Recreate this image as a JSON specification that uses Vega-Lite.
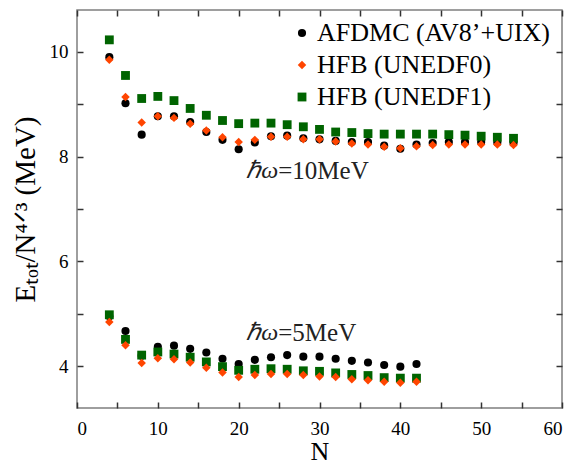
{
  "$schema": "https://vega.github.io/schema/vega-lite/v6.json",
  "width": 485,
  "height": 398,
  "autosize": "none",
  "padding": {"left": 77, "top": 10, "right": 19, "bottom": 58},
  "config": {
    "view": {"stroke": "#7f7f7f", "strokeWidth": 1.5},
    "font": "Liberation Serif",
    "axis": {
      "grid": false,
      "domain": false,
      "labelFont": "Liberation Serif",
      "labelFontSize": 19,
      "labelColor": "black",
      "titleFont": "Liberation Serif",
      "titleFontWeight": "normal",
      "titleColor": "black"
    }
  },
  "resolve": {"axis": {"x": "independent", "y": "independent"}},
  "datasets": {
    "pts": [
      {"N": 4, "E": 9.90, "s": "AFDMC (AV8’+UIX)"},
      {"N": 6, "E": 9.02, "s": "AFDMC (AV8’+UIX)"},
      {"N": 8, "E": 8.42, "s": "AFDMC (AV8’+UIX)"},
      {"N": 10, "E": 8.77, "s": "AFDMC (AV8’+UIX)"},
      {"N": 12, "E": 8.77, "s": "AFDMC (AV8’+UIX)"},
      {"N": 14, "E": 8.66, "s": "AFDMC (AV8’+UIX)"},
      {"N": 16, "E": 8.47, "s": "AFDMC (AV8’+UIX)"},
      {"N": 18, "E": 8.32, "s": "AFDMC (AV8’+UIX)"},
      {"N": 20, "E": 8.14, "s": "AFDMC (AV8’+UIX)"},
      {"N": 22, "E": 8.27, "s": "AFDMC (AV8’+UIX)"},
      {"N": 24, "E": 8.39, "s": "AFDMC (AV8’+UIX)"},
      {"N": 26, "E": 8.40, "s": "AFDMC (AV8’+UIX)"},
      {"N": 28, "E": 8.35, "s": "AFDMC (AV8’+UIX)"},
      {"N": 30, "E": 8.33, "s": "AFDMC (AV8’+UIX)"},
      {"N": 32, "E": 8.30, "s": "AFDMC (AV8’+UIX)"},
      {"N": 34, "E": 8.28, "s": "AFDMC (AV8’+UIX)"},
      {"N": 36, "E": 8.28, "s": "AFDMC (AV8’+UIX)"},
      {"N": 38, "E": 8.21, "s": "AFDMC (AV8’+UIX)"},
      {"N": 40, "E": 8.15, "s": "AFDMC (AV8’+UIX)"},
      {"N": 42, "E": 8.23, "s": "AFDMC (AV8’+UIX)"},
      {"N": 44, "E": 8.26, "s": "AFDMC (AV8’+UIX)"},
      {"N": 46, "E": 8.28, "s": "AFDMC (AV8’+UIX)"},
      {"N": 48, "E": 8.28, "s": "AFDMC (AV8’+UIX)"},
      {"N": 50, "E": 8.28, "s": "AFDMC (AV8’+UIX)"},
      {"N": 52, "E": 8.27, "s": "AFDMC (AV8’+UIX)"},
      {"N": 54, "E": 8.26, "s": "AFDMC (AV8’+UIX)"},
      {"N": 4, "E": 4.95, "s": "AFDMC (AV8’+UIX)"},
      {"N": 6, "E": 4.67, "s": "AFDMC (AV8’+UIX)"},
      {"N": 8, "E": 4.20, "s": "AFDMC (AV8’+UIX)"},
      {"N": 10, "E": 4.37, "s": "AFDMC (AV8’+UIX)"},
      {"N": 12, "E": 4.39, "s": "AFDMC (AV8’+UIX)"},
      {"N": 14, "E": 4.33, "s": "AFDMC (AV8’+UIX)"},
      {"N": 16, "E": 4.26, "s": "AFDMC (AV8’+UIX)"},
      {"N": 18, "E": 4.14, "s": "AFDMC (AV8’+UIX)"},
      {"N": 20, "E": 4.04, "s": "AFDMC (AV8’+UIX)"},
      {"N": 22, "E": 4.12, "s": "AFDMC (AV8’+UIX)"},
      {"N": 24, "E": 4.17, "s": "AFDMC (AV8’+UIX)"},
      {"N": 26, "E": 4.21, "s": "AFDMC (AV8’+UIX)"},
      {"N": 28, "E": 4.18, "s": "AFDMC (AV8’+UIX)"},
      {"N": 30, "E": 4.18, "s": "AFDMC (AV8’+UIX)"},
      {"N": 32, "E": 4.14, "s": "AFDMC (AV8’+UIX)"},
      {"N": 34, "E": 4.10, "s": "AFDMC (AV8’+UIX)"},
      {"N": 36, "E": 4.07, "s": "AFDMC (AV8’+UIX)"},
      {"N": 38, "E": 4.02, "s": "AFDMC (AV8’+UIX)"},
      {"N": 40, "E": 3.99, "s": "AFDMC (AV8’+UIX)"},
      {"N": 42, "E": 4.04, "s": "AFDMC (AV8’+UIX)"},
      {"N": 4, "E": 10.23, "s": "HFB (UNEDF1)"},
      {"N": 6, "E": 9.55, "s": "HFB (UNEDF1)"},
      {"N": 8, "E": 9.11, "s": "HFB (UNEDF1)"},
      {"N": 10, "E": 9.15, "s": "HFB (UNEDF1)"},
      {"N": 12, "E": 9.07, "s": "HFB (UNEDF1)"},
      {"N": 14, "E": 8.92, "s": "HFB (UNEDF1)"},
      {"N": 16, "E": 8.79, "s": "HFB (UNEDF1)"},
      {"N": 18, "E": 8.69, "s": "HFB (UNEDF1)"},
      {"N": 20, "E": 8.63, "s": "HFB (UNEDF1)"},
      {"N": 22, "E": 8.64, "s": "HFB (UNEDF1)"},
      {"N": 24, "E": 8.64, "s": "HFB (UNEDF1)"},
      {"N": 26, "E": 8.61, "s": "HFB (UNEDF1)"},
      {"N": 28, "E": 8.57, "s": "HFB (UNEDF1)"},
      {"N": 30, "E": 8.52, "s": "HFB (UNEDF1)"},
      {"N": 32, "E": 8.47, "s": "HFB (UNEDF1)"},
      {"N": 34, "E": 8.46, "s": "HFB (UNEDF1)"},
      {"N": 36, "E": 8.44, "s": "HFB (UNEDF1)"},
      {"N": 38, "E": 8.43, "s": "HFB (UNEDF1)"},
      {"N": 40, "E": 8.43, "s": "HFB (UNEDF1)"},
      {"N": 42, "E": 8.43, "s": "HFB (UNEDF1)"},
      {"N": 44, "E": 8.43, "s": "HFB (UNEDF1)"},
      {"N": 46, "E": 8.42, "s": "HFB (UNEDF1)"},
      {"N": 48, "E": 8.41, "s": "HFB (UNEDF1)"},
      {"N": 50, "E": 8.39, "s": "HFB (UNEDF1)"},
      {"N": 52, "E": 8.37, "s": "HFB (UNEDF1)"},
      {"N": 54, "E": 8.35, "s": "HFB (UNEDF1)"},
      {"N": 4, "E": 4.98, "s": "HFB (UNEDF1)"},
      {"N": 6, "E": 4.51, "s": "HFB (UNEDF1)"},
      {"N": 8, "E": 4.21, "s": "HFB (UNEDF1)"},
      {"N": 10, "E": 4.27, "s": "HFB (UNEDF1)"},
      {"N": 12, "E": 4.23, "s": "HFB (UNEDF1)"},
      {"N": 14, "E": 4.17, "s": "HFB (UNEDF1)"},
      {"N": 16, "E": 4.08, "s": "HFB (UNEDF1)"},
      {"N": 18, "E": 3.99, "s": "HFB (UNEDF1)"},
      {"N": 20, "E": 3.92, "s": "HFB (UNEDF1)"},
      {"N": 22, "E": 3.94, "s": "HFB (UNEDF1)"},
      {"N": 24, "E": 3.95, "s": "HFB (UNEDF1)"},
      {"N": 26, "E": 3.94, "s": "HFB (UNEDF1)"},
      {"N": 28, "E": 3.91, "s": "HFB (UNEDF1)"},
      {"N": 30, "E": 3.90, "s": "HFB (UNEDF1)"},
      {"N": 32, "E": 3.87, "s": "HFB (UNEDF1)"},
      {"N": 34, "E": 3.84, "s": "HFB (UNEDF1)"},
      {"N": 36, "E": 3.82, "s": "HFB (UNEDF1)"},
      {"N": 38, "E": 3.78, "s": "HFB (UNEDF1)"},
      {"N": 40, "E": 3.77, "s": "HFB (UNEDF1)"},
      {"N": 42, "E": 3.77, "s": "HFB (UNEDF1)"},
      {"N": 4, "E": 9.85, "s": "HFB (UNEDF0)"},
      {"N": 6, "E": 9.14, "s": "HFB (UNEDF0)"},
      {"N": 8, "E": 8.65, "s": "HFB (UNEDF0)"},
      {"N": 10, "E": 8.77, "s": "HFB (UNEDF0)"},
      {"N": 12, "E": 8.74, "s": "HFB (UNEDF0)"},
      {"N": 14, "E": 8.63, "s": "HFB (UNEDF0)"},
      {"N": 16, "E": 8.50, "s": "HFB (UNEDF0)"},
      {"N": 18, "E": 8.37, "s": "HFB (UNEDF0)"},
      {"N": 20, "E": 8.28, "s": "HFB (UNEDF0)"},
      {"N": 22, "E": 8.32, "s": "HFB (UNEDF0)"},
      {"N": 24, "E": 8.38, "s": "HFB (UNEDF0)"},
      {"N": 26, "E": 8.38, "s": "HFB (UNEDF0)"},
      {"N": 28, "E": 8.33, "s": "HFB (UNEDF0)"},
      {"N": 30, "E": 8.33, "s": "HFB (UNEDF0)"},
      {"N": 32, "E": 8.29, "s": "HFB (UNEDF0)"},
      {"N": 34, "E": 8.25, "s": "HFB (UNEDF0)"},
      {"N": 36, "E": 8.23, "s": "HFB (UNEDF0)"},
      {"N": 38, "E": 8.19, "s": "HFB (UNEDF0)"},
      {"N": 40, "E": 8.16, "s": "HFB (UNEDF0)"},
      {"N": 42, "E": 8.20, "s": "HFB (UNEDF0)"},
      {"N": 44, "E": 8.22, "s": "HFB (UNEDF0)"},
      {"N": 46, "E": 8.23, "s": "HFB (UNEDF0)"},
      {"N": 48, "E": 8.23, "s": "HFB (UNEDF0)"},
      {"N": 50, "E": 8.23, "s": "HFB (UNEDF0)"},
      {"N": 52, "E": 8.23, "s": "HFB (UNEDF0)"},
      {"N": 54, "E": 8.22, "s": "HFB (UNEDF0)"},
      {"N": 4, "E": 4.84, "s": "HFB (UNEDF0)"},
      {"N": 6, "E": 4.40, "s": "HFB (UNEDF0)"},
      {"N": 8, "E": 4.06, "s": "HFB (UNEDF0)"},
      {"N": 10, "E": 4.15, "s": "HFB (UNEDF0)"},
      {"N": 12, "E": 4.13, "s": "HFB (UNEDF0)"},
      {"N": 14, "E": 4.07, "s": "HFB (UNEDF0)"},
      {"N": 16, "E": 3.97, "s": "HFB (UNEDF0)"},
      {"N": 18, "E": 3.88, "s": "HFB (UNEDF0)"},
      {"N": 20, "E": 3.79, "s": "HFB (UNEDF0)"},
      {"N": 22, "E": 3.83, "s": "HFB (UNEDF0)"},
      {"N": 24, "E": 3.85, "s": "HFB (UNEDF0)"},
      {"N": 26, "E": 3.85, "s": "HFB (UNEDF0)"},
      {"N": 28, "E": 3.83, "s": "HFB (UNEDF0)"},
      {"N": 30, "E": 3.80, "s": "HFB (UNEDF0)"},
      {"N": 32, "E": 3.79, "s": "HFB (UNEDF0)"},
      {"N": 34, "E": 3.75, "s": "HFB (UNEDF0)"},
      {"N": 36, "E": 3.73, "s": "HFB (UNEDF0)"},
      {"N": 38, "E": 3.70, "s": "HFB (UNEDF0)"},
      {"N": 40, "E": 3.68, "s": "HFB (UNEDF0)"},
      {"N": 42, "E": 3.70, "s": "HFB (UNEDF0)"}
    ],
    "ann": [
      {"x": 24.9, "y": 7.72, "sym": "ℏω", "rest": "=10MeV"},
      {"x": 24.9, "y": 4.63, "sym": "ℏω", "rest": "=5MeV"}
    ]
  },
  "layer": [
    {
      "data": {"name": "pts"},
      "mark": {"type": "point", "filled": true, "opacity": 1},
      "encoding": {
        "x": {
          "field": "N", "type": "quantitative",
          "scale": {"domain": [0, 60], "nice": false, "zero": false},
          "axis": {
            "orient": "bottom",
            "values": [0, 5, 10, 15, 20, 25, 30, 35, 40, 45, 50, 55, 60],
            "labelExpr": "datum.value % 10 == 0 ? datum.label : ''",
            "ticks": true, "tickSize": 6, "offset": -6, "tickColor": "#333333", "tickWidth": 1.5, "tickOpacity": 1, "zindex": 2,
            "labelPadding": 11,
            "title": "N",
            "titleFontSize": 26,
            "titlePadding": 0
          }
        },
        "y": {
          "field": "E", "type": "quantitative",
          "scale": {"domain": [3.2, 10.8], "nice": false, "zero": false},
          "axis": {
            "orient": "left",
            "values": [4, 5, 6, 7, 8, 9, 10],
            "labelExpr": "datum.value % 2 == 0 ? datum.label : ''",
            "ticks": true, "tickSize": 6, "offset": -6, "tickColor": "#333333", "tickWidth": 1.5, "tickOpacity": 1, "zindex": 2,
            "labelPadding": 9,
            "title": "Eₜₒₜ/N⁴ᐟ³ (MeV)",
            "titleFontSize": 29,
            "titlePadding": 9
          }
        },
        "size": {
          "field": "s", "type": "nominal",
          "scale": {
            "domain": ["AFDMC (AV8’+UIX)", "HFB (UNEDF0)", "HFB (UNEDF1)"],
            "range": [66, 78, 62]
          },
          "legend": null
        },
        "color": {
          "field": "s", "type": "nominal",
          "scale": {
            "domain": ["AFDMC (AV8’+UIX)", "HFB (UNEDF0)", "HFB (UNEDF1)"],
            "range": ["#000000", "#ff4500", "#006400"]
          },
          "legend": {
            "orient": "none", "legendX": 212, "legendY": 10, "title": null,
            "labelFont": "Liberation Serif", "labelFontSize": 26, "labelColor": "black", "labelLimit": 400,
            "symbolSize": 55, "labelOffset": 2, "rowPadding": 6, "padding": 0
          }
        },
        "shape": {
          "field": "s", "type": "nominal",
          "scale": {
            "domain": ["AFDMC (AV8’+UIX)", "HFB (UNEDF0)", "HFB (UNEDF1)"],
            "range": ["circle", "diamond", "square"]
          },
          "legend": {
            "orient": "none", "legendX": 212, "legendY": 10, "title": null,
            "labelFont": "Liberation Serif", "labelFontSize": 26, "labelColor": "black", "labelLimit": 400,
            "symbolSize": 55, "labelOffset": 2, "rowPadding": 6, "padding": 0
          }
        }
      }
    },
    {
      "data": {"name": "pts"},
      "mark": {"type": "point", "opacity": 0},
      "encoding": {
        "x": {
          "field": "N", "type": "quantitative",
          "axis": {
            "orient": "top",
            "values": [0, 5, 10, 15, 20, 25, 30, 35, 40, 45, 50, 55, 60],
            "ticks": true, "tickSize": 6, "offset": -6, "tickColor": "#333333", "tickWidth": 1.5, "tickOpacity": 1, "zindex": 2,
            "labels": false, "title": null
          }
        },
        "y": {
          "field": "E", "type": "quantitative",
          "axis": {
            "orient": "right",
            "values": [4, 5, 6, 7, 8, 9, 10],
            "ticks": true, "tickSize": 6, "offset": -6, "tickColor": "#333333", "tickWidth": 1.5, "tickOpacity": 1, "zindex": 2,
            "labels": false, "title": null
          }
        }
      }
    },
    {
      "data": {"name": "ann"},
      "mark": {"type": "text", "align": "right", "baseline": "middle", "font": "Liberation Serif", "fontStyle": "italic", "fontSize": 24, "color": "#222"},
      "encoding": {
        "x": {"field": "x", "type": "quantitative", "axis": null},
        "y": {"field": "y", "type": "quantitative", "axis": null},
        "text": {"field": "sym"}
      }
    },
    {
      "data": {"name": "ann"},
      "mark": {"type": "text", "align": "left", "baseline": "middle", "font": "Liberation Serif", "fontSize": 25, "color": "#222"},
      "encoding": {
        "x": {"field": "x", "type": "quantitative", "axis": null},
        "y": {"field": "y", "type": "quantitative", "axis": null},
        "text": {"field": "rest"}
      }
    }
  ]
}
